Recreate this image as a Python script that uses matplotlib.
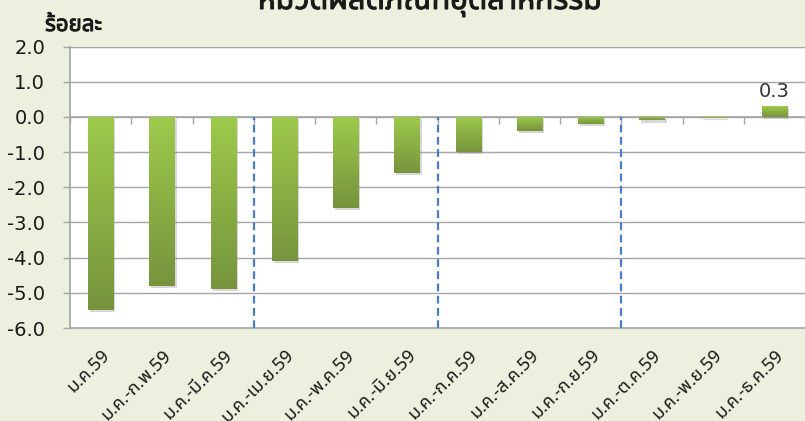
import numpy as np
import matplotlib
matplotlib.use('Agg')
import matplotlib.pyplot as plt
from matplotlib import patheffects
from matplotlib.colors import LinearSegmentedColormap

# cumulative change, % (Jan .. Dec 2559)
periods = ['ม.ค.59', 'ม.ค.-ก.พ.59', 'ม.ค.-มี.ค.59', 'ม.ค.-เม.ย.59', 'ม.ค.-พ.ค.59',
           'ม.ค.-มิ.ย.59', 'ม.ค.-ก.ค.59', 'ม.ค.-ส.ค.59', 'ม.ค.-ก.ย.59',
           'ม.ค.-ต.ค.59', 'ม.ค.-พ.ย.59', 'ม.ค.-ธ.ค.59']
change = [-5.5, -4.8, -4.9, -4.1, -2.6, -1.6, -1.0, -0.4, -0.2, -0.1, -0.02, 0.3]
quarter_ends = [2.5, 5.5, 8.5]
y_ticks = np.arange(-6, 3, 1)
title = 'หมวดผลิตภัณฑ์อุตสาหกรรม'
unit = 'ร้อยละ'

plt.rcParams['font.family'] = ['Noto Sans Thai', 'DejaVu Sans']

bg = '#ebf1de'
grid_c = '#a6a6a6'
green = LinearSegmentedColormap.from_list('g', ['#9dca4c', '#77943d'])
bold = [patheffects.withStroke(linewidth=0.7, foreground='#1a1a1a')]

fig = plt.figure(figsize=(8.05, 4.21), dpi=100, facecolor=bg)
ax = fig.add_axes([70 / 805, 1 - 328 / 421, 1 - 70 / 805, (328 - 46.6) / 421])
ax.set_facecolor('white')

x = np.arange(len(periods))
bars = ax.bar(x, change, width=0.41, color='#8db447', zorder=3)
shadow = [patheffects.SimplePatchShadow(offset=(1.5, -1.5), alpha=0.3, shadow_rgbFace='#808080')]
grad = np.linspace(0, 1, 100).reshape(-1, 1)
for b in bars:
    b.set_path_effects(shadow + [patheffects.Normal()])
    x0, y0 = b.get_x(), b.get_y()
    w, h = b.get_width(), b.get_height()
    top, bot = max(y0, y0 + h), min(y0, y0 + h)
    im = ax.imshow(grad, extent=(x0, x0 + w, bot, top), aspect='auto',
                   cmap=green, zorder=4, origin='upper')
    im.set_clip_path(b)

ax.set_xlim(-0.5, len(periods) - 0.5)
ax.set_ylim(-6, 2)
ax.set_yticks(y_ticks)
ax.set_yticklabels(['%.1f' % v for v in y_ticks], fontsize=14, color='#1a1a1a',
                   family='DejaVu Sans')
ax.yaxis.grid(True, color=grid_c, linewidth=1.0, zorder=0)
ax.set_axisbelow(True)
ax.tick_params(axis='y', length=5, width=1, color=grid_c, pad=13)

ax.set_xticks(x)
ax.set_xticklabels(periods, rotation=45, ha='right', va='top',
                   rotation_mode='anchor', fontsize=13, color='#1a1a1a')
ax.tick_params(axis='x', length=0, pad=13)

for s in ['top', 'right']:
    ax.spines[s].set_visible(False)
for s in ['left', 'bottom']:
    ax.spines[s].set_color(grid_c)
    ax.spines[s].set_linewidth(1.2)

# category axis sits on zero with boundary ticks pointing down
zero_ax = ax.secondary_xaxis(6 / 8)
zero_ax.xaxis.set_ticks_position('bottom')
zero_ax.set_xticks(np.arange(-0.5, len(periods), 1.0))
zero_ax.set_xticklabels([])
zero_ax.tick_params(length=5, width=1, color=grid_c, direction='out')
for s in zero_ax.spines.values():
    s.set_color(grid_c)
    s.set_linewidth(1.2)

for q in quarter_ends:
    ax.plot([q, q], [ax.get_ylim()[0], 0], color='#4a7ccc', linestyle=(0, (3.5, 2)),
            linewidth=1.6, zorder=5)

ax.annotate('%.1f' % change[-1], (x[-1], change[-1]), xytext=(0, 4),
            textcoords='offset points', ha='center', va='bottom',
            fontsize=14, color='#333333', zorder=6, family='DejaVu Sans')

fig.text(430 / 805, 1 - 9 / 421, title, ha='center', va='baseline',
         fontsize=22, color='#1a1a1a', path_effects=bold)
fig.text(45 / 805, 1 - 31 / 421, unit, ha='left', va='baseline',
         fontsize=16, color='#1a1a1a', path_effects=bold)

fig.savefig('out.png', dpi=100, facecolor=bg)
